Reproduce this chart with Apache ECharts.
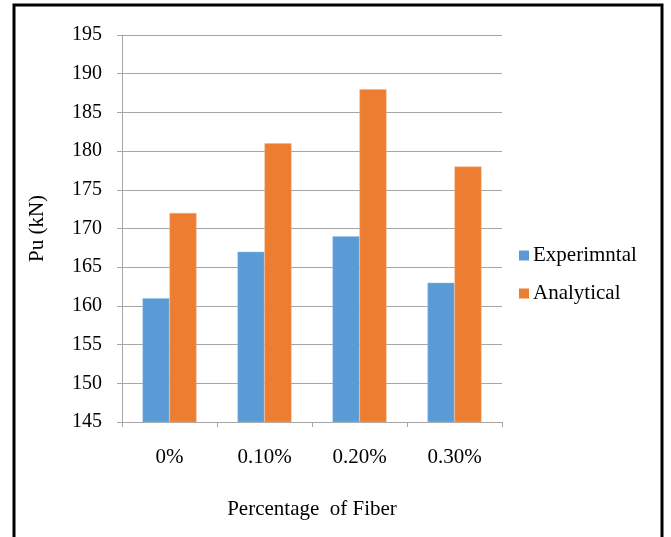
<!DOCTYPE html>
<html>
<head>
<meta charset="utf-8">
<script src="https://cdn.jsdelivr.net/npm/echarts@6/dist/echarts.min.js"></script>
<style>html,body{margin:0;padding:0;background:#fff;}#c{width:671px;height:537px;}</style>
</head>
<body>
<div id="c"></div>
<script>
var categories = ['0%', '0.10%', '0.20%', '0.30%'];
var experimental = [161, 167, 169, 163];
var analytical = [172, 181, 188, 178];
var yTicks = {min: 145, max: 195, interval: 5};

var FONT = '"Liberation Serif", "Times New Roman", serif';
var chart = echarts.init(document.getElementById('c'));
chart.setOption({
  animation: false,
  backgroundColor: '#fff',
  graphic: [{
    type: 'rect',
    shape: {x: 14, y: 5, width: 648, height: 600},
    style: {fill: 'none', stroke: '#000', lineWidth: 3},
    silent: true
  }],
  grid: {left: 122, right: 169, top: 35, bottom: 115},
  legend: {
    orient: 'vertical',
    left: 519, top: 245,
    padding: 0,
    itemWidth: 10, itemHeight: 10, itemGap: 17,
    icon: 'rect',
    itemStyle: {borderWidth: 0},
    textStyle: {fontFamily: FONT, fontSize: 21, color: '#000', padding: [0, 0, 0, -1]},
    data: ['Experimntal', 'Analytical']
  },
  xAxis: {
    type: 'category',
    data: categories,
    axisLine: {lineStyle: {color: '#a6a6a6', width: 1}},
    axisTick: {show: true, length: 5, lineStyle: {color: '#a6a6a6'}},
    axisLabel: {fontFamily: FONT, fontSize: 21, color: '#000', margin: 25},
    name: 'Percentage  of Fiber',
    nameLocation: 'middle',
    nameGap: 77,
    nameTextStyle: {fontFamily: FONT, fontSize: 21, color: '#000'}
  },
  yAxis: {
    type: 'value',
    min: yTicks.min, max: yTicks.max, interval: yTicks.interval,
    axisLine: {show: true, lineStyle: {color: '#a6a6a6', width: 1}},
    axisTick: {show: true, length: 5, lineStyle: {color: '#a6a6a6'}},
    splitLine: {show: true, lineStyle: {color: '#a6a6a6', width: 1}},
    axisLabel: {fontFamily: FONT, fontSize: 20, color: '#000', margin: 20},
    name: 'Pu (kN)',
    nameLocation: 'middle',
    nameGap: 74,
    nameRotate: 90,
    nameTextStyle: {fontFamily: FONT, fontSize: 21, color: '#000'}
  },
  series: [
    {name: 'Experimntal', type: 'bar', data: experimental, barWidth: 27, barGap: '0%',
     itemStyle: {color: '#5B9BD5', borderColor: '#9cc3e6', borderWidth: 0.5}},
    {name: 'Analytical', type: 'bar', data: analytical, barWidth: 27,
     itemStyle: {color: '#ED7D31', borderColor: '#f4b183', borderWidth: 0.5}}
  ]
});
</script>
</body>
</html>
